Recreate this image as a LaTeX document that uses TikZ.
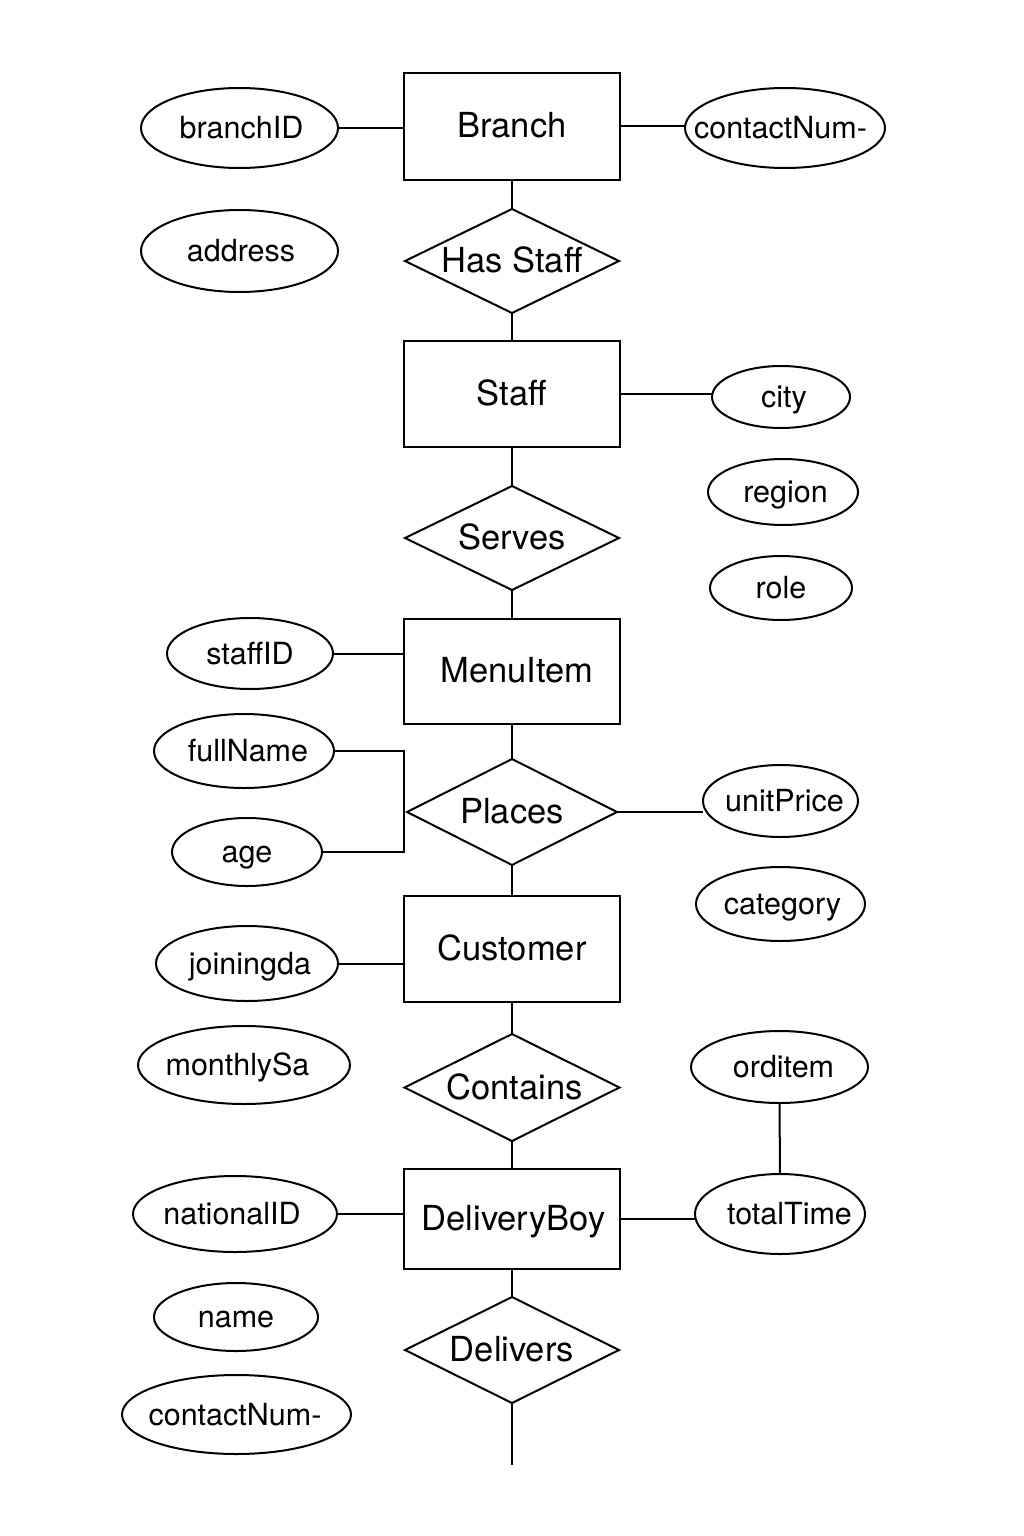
\documentclass[tikz,border=0pt]{standalone}
\usepackage{fontspec}
\setmainfont{TeX Gyre Heros}
\usetikzlibrary{shapes.geometric}
\newcommand\zt[2][0pt]{\makebox[0pt]{\hspace*{#1}\hspace*{#1}#2}}
\begin{document}
\begin{tikzpicture}[x=1pt,y=-1pt,
  every node/.style={inner sep=0pt,outer sep=0pt},
  ent/.style={draw,rectangle,line width=2pt,minimum width=216pt,font=\fontsize{34.5}{40}\selectfont,text height=24.8pt,text depth=2pt},
  rel/.style={draw,diamond,aspect=2.06,line width=2pt,font=\fontsize{34.5}{40}\selectfont,text height=24.8pt,text depth=1.5pt},
  attr/.style={draw,ellipse,line width=2pt,font=\fontsize{30.5}{36}\selectfont,text height=21.9pt,text depth=0pt},
  conn/.style={line width=2pt}]
\useasboundingbox[fill=white] (0,0) rectangle (1024,1536);
% entities
\node[ent,minimum height=107pt] (branch) at (512,126.5) {\zt{Branch}};
\node[ent,minimum height=106pt] (staff) at (512,394) {\zt{Staff}};
\node[ent,minimum height=105pt] (menu) at (512,671.5) {\zt[5pt]{MenuItem}};
\node[ent,minimum height=106pt] (customer) at (512,949) {\zt{Customer}};
\node[ent,minimum height=100pt] (delivery) at (512,1219) {\zt[1.5pt]{DeliveryBoy}};
% relationships
\node[rel,minimum width=214pt,minimum height=104pt] (hasStaff) at (512,261) {\zt{Has Staff}};
\node[rel,minimum width=214pt,minimum height=104pt] (serves) at (512,538) {\zt{Serves}};
\node[rel,minimum width=210pt,minimum height=106pt] (places) at (512,812) {\zt{Places}};
\node[rel,minimum width=215pt,minimum height=107pt] (contains) at (512,1087.5) {\zt[2.5pt]{Contains}};
\node[rel,minimum width=214pt,minimum height=106pt] (delivers) at (512,1350) {\zt{Delivers}};
\coordinate (endpt) at (512,1465);
% attributes
\node[attr,minimum width=197pt,minimum height=80pt] (branchID) at (239.5,128) {\zt[2pt]{branchID}};
\node[attr,minimum width=200pt,minimum height=80pt] (contactR) at (785,128) {\zt[-4.5pt]{contactNum-}};
\node[attr,minimum width=197pt,minimum height=82pt] (address) at (239.5,251) {\zt[1.5pt]{address}};
\node[attr,minimum width=138pt,minimum height=62pt] (city) at (781,397) {\zt[3pt]{city}};
\node[attr,minimum width=150pt,minimum height=66pt] (region) at (783,492) {\zt[2.5pt]{region}};
\node[attr,minimum width=142pt,minimum height=64pt] (role) at (781,588) {\zt{role}};
\node[attr,minimum width=166pt,minimum height=71pt] (staffID) at (250,653.5) {\zt{staffID}};
\node[attr,minimum width=180pt,minimum height=74pt] (fullName) at (244,751) {\zt[4pt]{fullName}};
\node[attr,minimum width=150pt,minimum height=68pt] (age) at (247,852) {\zt{age}};
\node[attr,minimum width=155pt,minimum height=72pt] (unitPrice) at (780.5,801) {\zt[4pt]{unitPrice}};
\node[attr,minimum width=169pt,minimum height=74pt] (category) at (780.5,904) {\zt[2pt]{category}};
\node[attr,minimum width=182pt,minimum height=75pt] (joiningda) at (247,963.5) {\zt[3pt]{joiningda}};
\node[attr,minimum width=212pt,minimum height=78pt] (monthlySa) at (244,1065) {\zt[-6.5pt]{monthlySa}};
\node[attr,minimum width=177pt,minimum height=72pt] (orditem) at (779.5,1067) {\zt[4pt]{orditem}};
\node[attr,minimum width=170pt,minimum height=80pt] (totalTime) at (780,1214) {\zt[9.5pt]{totalTime}};
\node[attr,minimum width=204pt,minimum height=76pt] (nationalID) at (235,1214) {\zt[-3pt]{nationalID}};
\node[attr,minimum width=164pt,minimum height=68pt] (name) at (236,1317) {\zt{name}};
\node[attr,minimum width=229pt,minimum height=79pt] (contactL) at (236.5,1414.5) {\zt[-1.5pt]{contactNum-}};
% vertical spine
\draw[conn] (branch.south) -- (hasStaff.north);
\draw[conn] (hasStaff.south) -- (staff.north);
\draw[conn] (staff.south) -- (serves.north);
\draw[conn] (serves.south) -- (menu.north);
\draw[conn] (menu.south) -- (places.north);
\draw[conn] (places.south) -- (customer.north);
\draw[conn] (customer.south) -- (contains.north);
\draw[conn] (contains.south) -- (delivery.north);
\draw[conn] (delivery.south) -- (delivers.north);
\draw[conn] (delivers.south) -- (endpt);
% attribute connectors
\draw[conn] (branchID.east) -- (branchID.east -| branch.west);
\draw[conn] (branch.east) -- (branch.east -| contactR.west);
\draw[conn] (staff.east) -- (staff.east -| city.west);
\draw[conn] (staffID.east) -- (staffID.east -| menu.west);
\draw[conn] (fullName.east) -| (age.east -| menu.west) -- (age.east);
\draw[conn] (places.east) -- (places.east -| unitPrice.west);
\draw[conn] (joiningda.east) -- (joiningda.east -| customer.west);
\draw[conn] (orditem.south) -- (totalTime.north);
\draw[conn] (delivery.east) -- (delivery.east -| totalTime.west);
\draw[conn] (nationalID.east) -- (nationalID.east -| delivery.west);
\end{tikzpicture}
\end{document}
